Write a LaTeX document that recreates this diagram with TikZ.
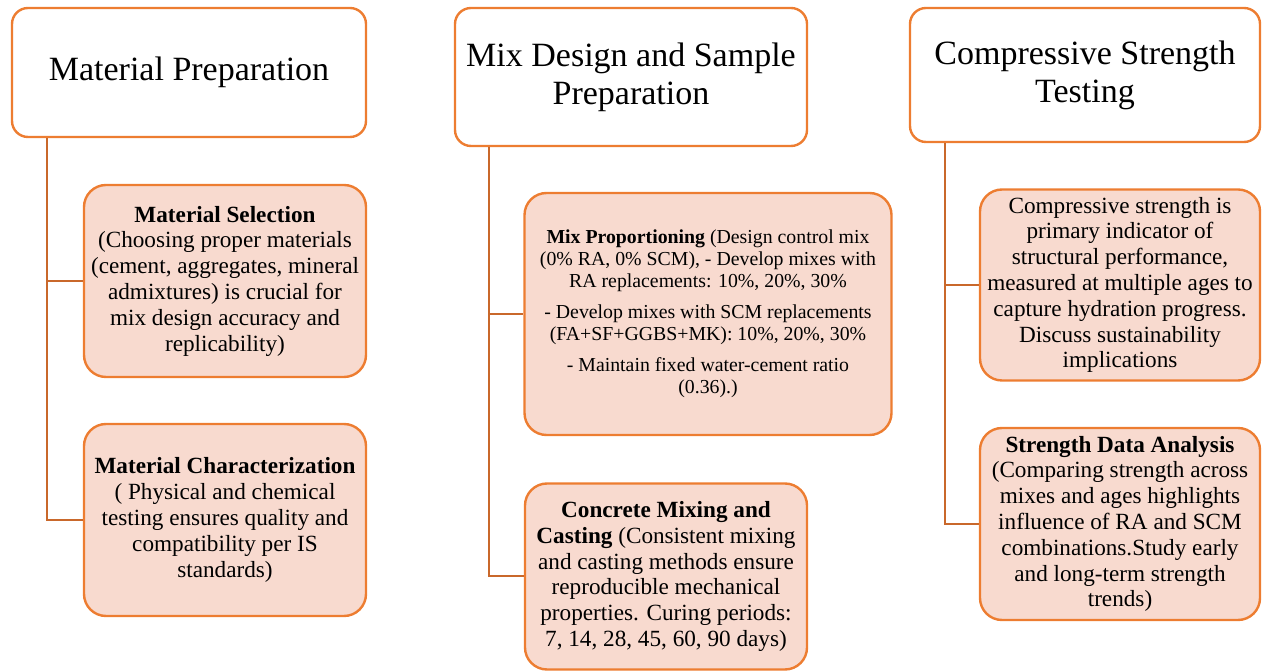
\documentclass[tikz,border=0pt]{standalone}
\usepackage{fontspec}
\setmainfont{Liberation Serif}
\usepackage{tikz}
\usetikzlibrary{positioning}

\definecolor{BoxLine}{HTML}{ED7D31}
\definecolor{BoxFill}{HTML}{F8DACF}
\definecolor{LinkLine}{HTML}{C9682B}

\begin{document}
\begin{tikzpicture}[x=0.5pt, y=-0.5pt]
			\tikzstyle{Head}	= [rectangle, draw=BoxLine, line width=1.2pt, fill=white, rounded corners=8pt, align=center, inner sep=0pt, font=\fontsize{17}{19}\selectfont]
			\tikzstyle{Item}	= [rectangle, draw=BoxLine, line width=1.2pt, fill=BoxFill, rounded corners=11pt, align=center, inner sep=0pt, font=\fontsize{11.6}{12.9}\selectfont]
			\tikzstyle{Small}	= [font=\fontsize{9.9}{11}\selectfont]
			\tikzstyle{Link}	= [LinkLine, line width=1pt]

			\useasboundingbox (0,0) rectangle (1262,672);

			% column heads
			\node (prep) at (189,72.5) [Head][minimum width=177pt, minimum height=64.5pt] {Material Preparation};
			\node (mixdes) at (631,77) [Head][minimum width=176pt, minimum height=69pt] {Mix Design and Sample\\Preparation};
			\node (testing) at (1085,75) [Head][minimum width=175pt, minimum height=67pt] {Compressive Strength\\Testing};

			% first column
			\node (sel) at (225,281) [Item][minimum width=141pt, minimum height=96pt] {\textbf{Material Selection}\\(Choosing proper materials\\(cement, aggregates, mineral\\admixtures) is crucial for\\mix design accuracy and\\replicability)};
			\node (charac) at (225,520) [Item][minimum width=141pt, minimum height=96pt] {\textbf{Material Characterization}\\( Physical and chemical\\testing ensures quality and\\compatibility per IS\\standards)};

			% second column
			\node (prop) at (708,314) [Item][Small][minimum width=183.5pt, minimum height=121pt] {\textbf{Mix Proportioning} (Design control mix\\(0\% RA, 0\% SCM), - Develop mixes with\\RA replacements: 10\%, 20\%, 30\%\\[4.5pt]- Develop mixes with SCM replacements\\(FA+SF+GGBS+MK): 10\%, 20\%, 30\%\\[4.5pt]- Maintain fixed water-cement ratio\\(0.36).)};
			\node (cast) at (666,576.5) [Item][minimum width=141pt, minimum height=93pt] {\textbf{Concrete Mixing and}\\\textbf{Casting} (Consistent mixing\\and casting methods ensure\\reproducible mechanical\\properties. Curing periods:\\7, 14, 28, 45, 60, 90 days)};

			% third column
			\node (comp) at (1120,285) [Item][minimum width=140pt, minimum height=95.5pt] {Compressive strength is\\primary indicator of\\structural performance,\\measured at multiple ages to\\capture hydration progress.\\Discuss sustainability\\implications};
			\node (anal) at (1120,524) [Item][minimum width=140pt, minimum height=96pt] {\textbf{Strength Data Analysis}\\(Comparing strength across\\mixes and ages highlights\\influence of RA and SCM\\combinations.Study early\\and long-term strength\\trends)};

			\draw [Link] ([xshift=18pt]prep.south west) |- (sel.west);
			\draw [Link] ([xshift=18pt]prep.south west) |- (charac.west);
			\draw [Link] ([xshift=17.5pt]mixdes.south west) |- (prop.west);
			\draw [Link] ([xshift=17.5pt]mixdes.south west) |- (cast.west);
			\draw [Link] ([xshift=18pt]testing.south west) |- (comp.west);
			\draw [Link] ([xshift=18pt]testing.south west) |- (anal.west);
		\end{tikzpicture}
\end{document}
